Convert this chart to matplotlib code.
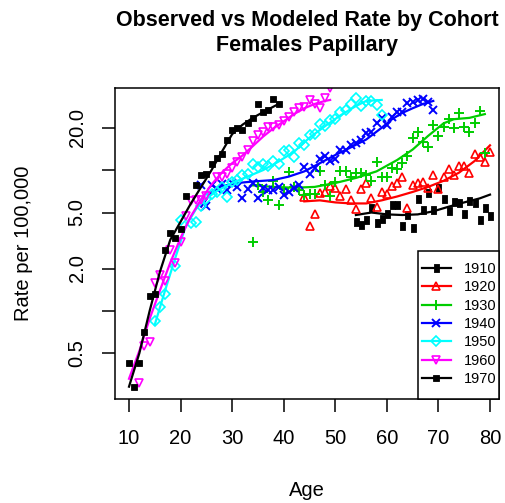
import matplotlib
matplotlib.use("Agg")
import matplotlib.pyplot as plt
from matplotlib.lines import Line2D
from matplotlib.patches import Rectangle

plt.rcParams['font.family'] = ['Liberation Sans', 'DejaVu Sans']

# observed rates per cohort
age_1910 = [54, 55, 56, 57, 58, 59, 60, 61, 62, 63, 64, 65, 66, 67, 68, 69, 70,
            71, 72, 73, 74, 75, 76, 77, 78, 79, 80]
obs_1910 = [4.3, 4.1, 4.45, 5.4, 4.2, 4.5, 4.9, 5.7, 5.7, 4.0, 4.8, 3.9, 6.2, 5.2,
            6.9, 5.2, 7.5, 6.2, 5.1, 5.9, 5.8, 4.9, 6.0, 5.8, 4.4, 5.4, 4.7]

age_1920 = [44, 45, 46, 47, 48, 49, 50, 51, 52, 53, 54, 55, 56, 57, 58, 59, 60, 61,
            62, 63, 64, 65, 66, 67, 68, 69, 70, 71, 72, 73, 74, 75, 76, 77, 78, 79, 80]
obs_1920 = [6.4, 4.0, 4.9, 6.9, 7.0, 7.7, 7.5, 6.6, 7.4, 6.1, 5.3, 7.3, 8.1, 6.3,
            5.5, 7.0, 6.8, 7.7, 8.1, 9.0, 5.4, 7.8, 8.1, 8.3, 7.5, 9.2, 7.4, 9.0,
            10.2, 9.2, 10.7, 10.7, 9.5, 13.0, 12.3, 11.5, 13.4]

age_1930 = [34, 35, 36, 37, 38, 39, 40, 41, 42, 43, 44, 45, 46, 47, 48, 49, 50, 51,
            52, 53, 54, 55, 56, 57, 58, 59, 60, 61, 62, 63, 64, 65, 66, 67, 68, 69,
            70, 71, 72, 73, 74, 75, 76, 77, 78, 79]
obs_1930 = [3.1, 7.8, 7.0, 6.1, 8.4, 5.7, 7.3, 9.7, 7.6, 7.2, 6.7, 6.8, 6.8, 9.8,
            7.9, 6.6, 8.3, 9.9, 9.9, 8.9, 9.6, 9.6, 9.3, 8.4, 11.4, 9.0, 9.0, 10.3,
            10.2, 11.3, 12.6, 16.9, 18.8, 15.8, 14.6, 21.0, 17.5, 20.4, 23.0, 20.0,
            25.5, 20.1, 18.7, 21.6, 26.5, 13.2]

age_1940 = [24, 25, 26, 27, 28, 29, 30, 31, 32, 33, 34, 35, 36, 37, 38, 39, 40, 41,
            42, 43, 44, 45, 46, 47, 48, 49, 50, 51, 52, 53, 54, 55, 56, 57, 58, 59,
            60, 61, 62, 63, 64, 65, 66, 67, 68, 69]
obs_1940 = [7.8, 5.6, 7.9, 7.4, 8.0, 7.2, 8.1, 7.6, 6.3, 7.4, 8.1, 6.3, 7.5, 7.2,
            7.2, 7.6, 6.7, 7.0, 7.5, 7.9, 10.5, 9.4, 10.3, 12.0, 12.7, 11.7, 12.0,
            13.8, 13.9, 15.0, 15.6, 16.3, 18.3, 18.7, 21.6, 23.3, 21.0, 23.8, 26.0,
            25.8, 30.0, 30.6, 31.5, 32.0, 30.6, 26.8]

age_1950 = [15, 16, 17, 19, 20, 22, 23, 24, 25, 26, 27, 28, 29, 30, 31, 32, 33, 34,
            35, 36, 37, 38, 39, 40, 41, 42, 43, 44, 45, 46, 47, 48, 49, 50, 51, 52,
            53, 54, 55, 56, 57, 58, 59]
obs_1950 = [0.85, 1.06, 1.33, 2.1, 4.4, 4.2, 4.3, 5.6, 6.2, 6.8, 7.0, 7.6, 6.4, 8.3,
            8.5, 9.3, 9.4, 11.0, 10.6, 11.1, 10.7, 11.6, 11.1, 13.7, 13.9, 12.3, 15.6,
            15.1, 17.9, 18.0, 21.1, 20.6, 22.6, 23.0, 25.8, 26.7, 29.3, 32.4, 28.6,
            31.1, 31.1, 29.0, 24.6]

age_1960 = [12, 13, 14, 15, 16, 17, 18, 19, 20, 21, 22, 23, 24, 25, 27, 28, 29, 30,
            31, 32, 33, 34, 35, 36, 37, 38, 39, 40, 41, 42, 43, 44, 45, 46, 47, 48, 49]
obs_1960 = [0.31, 0.56, 0.60, 1.57, 1.81, 1.63, 2.7, 2.2, 3.1, 4.7, 6.0, 6.1, 6.1,
            6.5, 9.0, 9.0, 9.4, 10.3, 11.5, 12.3, 13.9, 16.2, 17.7, 18.8, 20.1, 20.3,
            20.9, 22.2, 23.9, 26.0, 27.5, 28.2, 31.3, 29.5, 27.5, 32.5, 38.0]

age_1970 = [10, 11, 12, 13, 14, 15, 17, 18, 19, 20, 21, 23, 24, 25, 26, 27, 28, 29,
            30, 31, 32, 33, 34, 35, 36, 37, 38, 39]
obs_1970 = [0.43, 0.29, 0.43, 0.71, 1.28, 1.33, 2.7, 3.6, 3.3, 3.8, 6.6, 7.8, 9.3,
            9.4, 11.0, 12.2, 13.1, 16.3, 19.3, 19.8, 19.3, 21.5, 23.3, 29.3, 25.8,
            26.8, 32.0, 29.3]

# modeled rates (smooth curves, read at a few ages)
mage_1910 = [54, 57, 60, 63, 66, 69, 72, 75, 78, 80]
mod_1910 = [4.8, 5.0, 4.85, 4.8, 4.85, 5.1, 5.5, 5.9, 6.3, 6.7]
mage_1920 = [44, 47, 50, 53, 56, 59, 62, 65, 68, 71, 74, 77, 80]
mod_1920 = [6.0, 6.1, 5.9, 5.8, 5.8, 6.1, 6.5, 7.0, 7.6, 8.4, 9.6, 11.6, 15.0]
mage_1930 = [34, 38, 42, 46, 50, 54, 58, 62, 65, 68, 71, 73, 76, 79]
mod_1930 = [7.8, 7.6, 7.5, 7.6, 8.1, 8.8, 9.8, 11.8, 14.0, 17.5, 21.5, 23.0, 23.5, 25.0]
mage_1940 = [24, 26, 28, 31, 34, 38, 41, 44, 47, 50, 53, 56, 59, 61, 63, 65, 67, 69]
mod_1940 = [5.5, 7.0, 7.7, 8.1, 8.3, 8.5, 9.0, 9.8, 11.2, 12.8, 14.5, 16.5, 20.0,
            23.0, 25.5, 27.5, 29.5, 31.0]
mage_1950 = [15, 17, 19, 21, 23, 25, 27, 30, 33, 36, 39, 42, 45, 48, 51, 54, 56, 59]
mod_1950 = [0.8, 1.4, 2.4, 4.0, 5.3, 6.3, 7.1, 8.1, 9.0, 10.0, 11.5, 13.5, 17.0,
            20.5, 24.5, 28.5, 31.0, 31.5]
mage_1960 = [10, 12, 14, 16, 18, 20, 22, 24, 26, 28, 30, 32, 34, 36, 38, 40, 42, 44,
             46, 48, 49]
mod_1960 = [0.33, 0.52, 0.88, 1.4, 2.2, 3.3, 4.7, 6.2, 7.9, 9.6, 11.2, 12.7, 14.8,
            17.3, 19.8, 22.2, 25.0, 27.5, 29.5, 31.0, 31.5]
mage_1970 = [10, 12, 14, 16, 18, 20, 22, 24, 26, 28, 30, 32, 34, 36, 39]
mod_1970 = [0.29, 0.5, 1.0, 1.9, 3.2, 4.3, 5.8, 7.6, 10.0, 13.5, 18.0, 21.0, 23.5,
            25.8, 29.5]

cohort_labels = ["1910", "1920", "1930", "1940", "1950", "1960", "1970"]
cohort_colors = ["black", "#FF0000", "#00CD00", "#0000FF", "#00FFFF", "#FF00FF", "black"]

bar_marker = [(-0.3, -0.5), (0.3, -0.5), (0.3, 0.5), (-0.3, 0.5), (-0.3, -0.5)]
marker_styles = [
    dict(marker=bar_marker, ms=6, mfc="black", mec="black", mew=0.6),
    dict(marker="^", ms=6, mfc="none", mew=1.2),
    dict(marker="+", ms=7.5, mew=1.4),
    dict(marker="x", ms=5.5, mew=1.4),
    dict(marker="D", ms=4.8, mfc="none", mew=1.2),
    dict(marker="v", ms=6, mfc="none", mew=1.2),
    dict(marker="s", ms=5, mfc="black", mec="black", mew=0.6),
]

obs_ages = [age_1910, age_1920, age_1930, age_1940, age_1950, age_1960, age_1970]
obs_vals = [obs_1910, obs_1920, obs_1930, obs_1940, obs_1950, obs_1960, obs_1970]
mod_ages = [mage_1910, mage_1920, mage_1930, mage_1940, mage_1950, mage_1960, mage_1970]
mod_vals = [mod_1910, mod_1920, mod_1930, mod_1940, mod_1950, mod_1960, mod_1970]

fig = plt.figure(figsize=(5.06, 5.03), dpi=100)
ax = fig.add_axes([115 / 506, 1 - 399 / 503, 384 / 506, 311 / 503])

handles = []
for i in range(7):
    c = cohort_colors[i]
    ax.plot(obs_ages[i], obs_vals[i], ls="none", color=c, **marker_styles[i])
    ax.plot(mod_ages[i], mod_vals[i], color=c, lw=1.6)
    handles.append(Line2D([], [], color=c, lw=1.6, **marker_styles[i]))

ax.set_yscale("log")
ax.set_xlim(7.285, 81.745)
ax.set_ylim(0.237, 38.3)
ax.set_xticks([10, 20, 30, 40, 50, 60, 70, 80])
ax.set_yticks([0.5, 1, 2, 5, 10, 20])
ax.set_yticklabels(["0.5", "", "2.0", "5.0", "", "20.0"], rotation=90, va="center")
ax.minorticks_off()
ax.tick_params(direction="out", length=9.5, width=1.1, labelsize=14.5, pad=11)
ax.tick_params(axis="x", pad=12)
for s in ax.spines.values():
    s.set_linewidth(1.1)

ax.set_xlabel("Age", fontsize=14.5, va="center")
ax.xaxis.set_label_coords(0.5, (399 - 490) / 311)
ax.set_ylabel("Rate per 100,000", fontsize=14.5, va="center")
ax.yaxis.set_label_coords((24 - 115) / 384, 0.5)

ax.set_title("Observed vs Modeled Rate by Cohort\nFemales Papillary", fontsize=15.5,
             fontweight="bold", y=(399 - 41) / 311, va="center", linespacing=1.25)

# legend box drawn by hand (R style: tight sides, taller top/bottom)
ax.add_patch(Rectangle(((418 - 115) / 384, 0), (499 - 418) / 384, (399 - 251) / 311,
                       transform=ax.transAxes, fc="white", ec="black", lw=1.1,
                       zorder=4, clip_on=False))
leg = ax.legend(handles, cohort_labels, loc="upper left",
                bbox_to_anchor=((421.7 - 115) / 384, (399 - 262) / 311),
                frameon=False, fontsize=10.5, handlelength=2.0, handletextpad=0.9,
                labelspacing=0.3, borderpad=0, borderaxespad=0)
leg.set_zorder(5)

plt.savefig("out.png", dpi=100)
